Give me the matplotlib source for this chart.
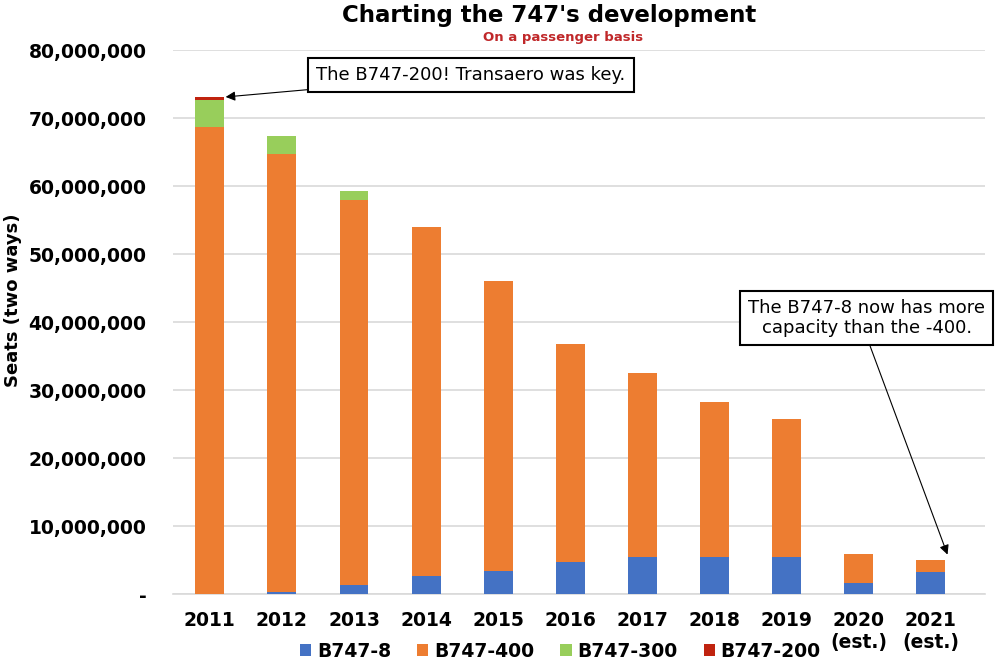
import matplotlib
matplotlib.use("Agg")
import matplotlib.pyplot as plt
from matplotlib.ticker import FuncFormatter

years = ["2011", "2012", "2013", "2014", "2015", "2016", "2017", "2018", "2019", "2020\n(est.)", "2021\n(est.)"]
b747_8 = [0.0, 0.3, 1.4, 2.6, 3.4, 4.7, 5.5, 5.4, 5.4, 1.6, 3.3]
b747_400 = [68.7, 64.4, 56.6, 51.4, 42.7, 32.1, 27.0, 22.8, 20.4, 4.3, 1.7]
b747_300 = [3.9, 2.6, 1.2, 0.0, 0.0, 0.0, 0.0, 0.0, 0.0, 0.0, 0.0]
b747_200 = [0.5, 0.1, 0.0, 0.0, 0.0, 0.0, 0.0, 0.0, 0.0, 0.0, 0.0]
series_names = ["B747-8", "B747-400", "B747-300", "B747-200"]
colors = ["#4472C4", "#ED7D31", "#98CE5B", "#C0230F"]

plt.rcParams['font.family'] = ['DejaVu Sans']
fig = plt.figure(figsize=(10, 6.67), dpi=100)
ax = fig.add_axes([0.173, 0.1094, 0.812, 0.8156])

x = list(range(len(years)))
M = 1e6
bottom = [0.0] * len(years)
for vals, name, col in zip([b747_8, b747_400, b747_300, b747_200], series_names, colors):
    v = [a * M for a in vals]
    ax.bar(x, v, width=0.4, bottom=bottom, color=col, label=name, zorder=3)
    bottom = [b + a for b, a in zip(bottom, v)]

ax.set_ylim(0, 80e6)
ax.set_xlim(-0.51, 10.75)
ax.set_yticks([i * 10e6 for i in range(9)])
ax.yaxis.set_major_formatter(FuncFormatter(lambda v, p: "-" if v == 0 else f"{int(v):,}"))
ax.set_xticks(x)
ax.set_xticklabels(years, linespacing=1.2)
ax.grid(axis='y', color='#D9D9D9', linewidth=1.2, zorder=0)
for s in ['top', 'right', 'left']:
    ax.spines[s].set_visible(False)
ax.spines['bottom'].set_color('#D9D9D9')
ax.spines['bottom'].set_linewidth(1.2)
ax.tick_params(axis='both', length=0, labelsize=13.5)
ax.tick_params(axis='x', pad=12)
ax.tick_params(axis='y', pad=19)
for lab in ax.get_xticklabels() + ax.get_yticklabels():
    lab.set_fontweight('bold')

ax.set_ylabel("Seats (two ways)", fontsize=13, fontweight='bold')
ax.yaxis.set_label_coords(-0.186, 0.54)

fig.text(0.549, 0.977, "Charting the 747's development", ha='center', va='center',
         fontsize=16.5, fontweight='bold')
fig.text(0.563, 0.944, "On a passenger basis", ha='center', va='center',
         fontsize=9.5, fontweight='bold', color='#C0282A')

leg = ax.legend(loc='center', bbox_to_anchor=(0.477, -0.105), ncol=4, frameon=False,
                prop={'weight': 'bold', 'size': 13.5}, handlelength=0.6, handleheight=0.6,
                handletextpad=0.3, columnspacing=1.4, borderpad=0)

box = dict(boxstyle='square,pad=0.45', fc='white', ec='black', lw=1.5)
ax.annotate("The B747-200! Transaero was key.", xy=(0.22, 73.1e6), xytext=(3.62, 76.3e6),
            fontsize=13, ha='center', va='center', bbox=box, zorder=5,
            arrowprops=dict(arrowstyle='-|>', color='black', lw=0.8, shrinkA=0, shrinkB=0,
                            mutation_scale=14))
ax.annotate("The B747-8 now has more\ncapacity than the -400.", xy=(10.23, 5.8e6), xytext=(9.11, 40.6e6),
            fontsize=13, ha='center', va='center', bbox=box, zorder=5, linespacing=1.15,
            arrowprops=dict(arrowstyle='-|>', color='black', lw=0.8, shrinkA=0, shrinkB=0,
                            mutation_scale=14, relpos=(0.5, 0.0)))

fig.savefig("out.png", dpi=100)
